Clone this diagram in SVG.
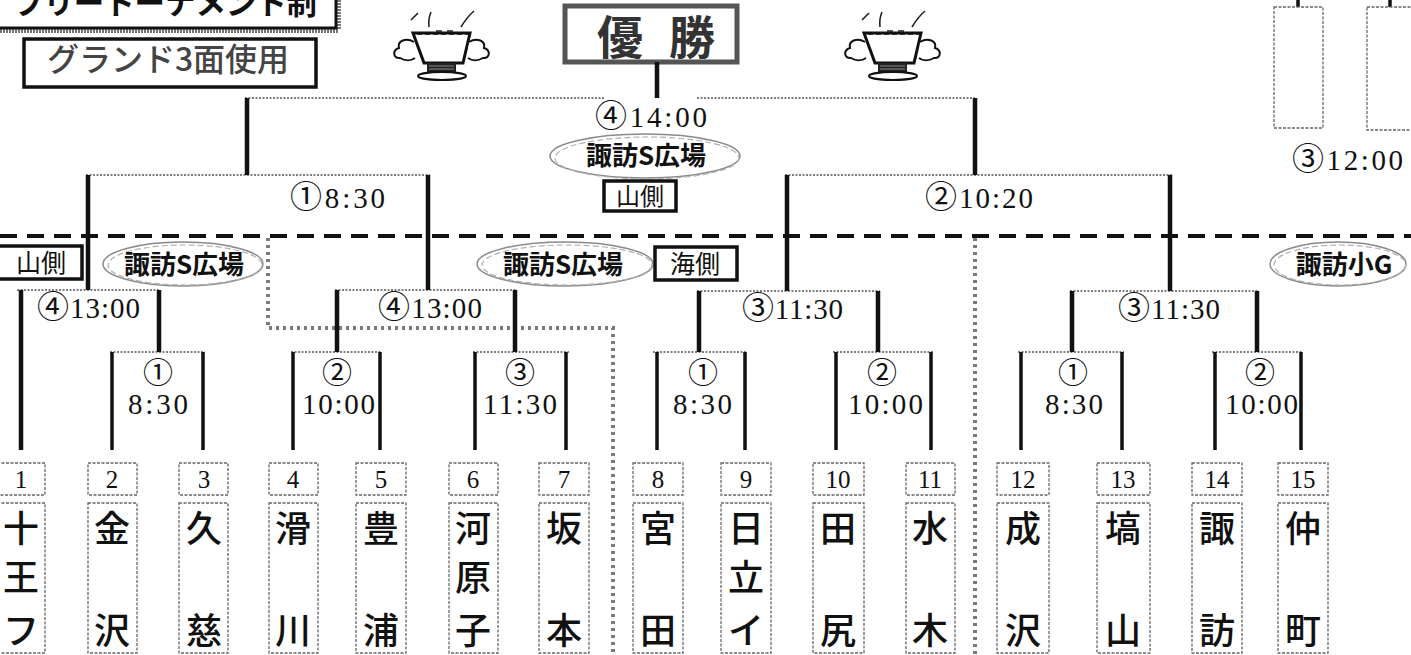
<svg xmlns="http://www.w3.org/2000/svg" width="1411" height="655" viewBox="0 0 1411 655">
<style>
.ser{font-family:"Liberation Serif","Noto Sans CJK JP",serif;fill:#111}
.jp{font-family:"Noto Sans CJK JP",sans-serif;fill:#111}
.v{stroke:#111;stroke-width:4.5;fill:none}
.v2{stroke:#111;stroke-width:3.5;fill:none}
.h{stroke:#555;stroke-width:1.6;stroke-dasharray:2 1.5;fill:none}
.sep{stroke:#7a7a7a;stroke-width:4;stroke-dasharray:3 4;fill:none}
.big{stroke:#111;stroke-width:4;stroke-dasharray:17 10;fill:none}
.box{fill:#fff;stroke:#111;stroke-width:3.5}
.tb{fill:#fff;stroke:#666;stroke-width:1.3;stroke-dasharray:3 1.5}
.ell{fill:none;stroke:#8a8a8a;stroke-width:1.5}
.ell2{fill:none;stroke:#b0b0b0;stroke-width:1.2;stroke-dasharray:6 3}
.t28{font-size:29px}
.cc{font-size:32px}
.c26{font-size:30px;text-anchor:middle}
.t27{font-size:29px}
.num{font-size:25px;text-anchor:middle}
.nm{font-size:36px;text-anchor:middle;font-weight:500}
.lab{font-size:26px;text-anchor:middle;font-weight:700}
</style>
<defs>
<g id="trophy">
<path d="M-30,20 q4,-4 7,-7 M-12,27 q-1,-8 2,-15 M-5,31 h6 M6,31 h6 M20,27 q6,-10 13,-16" stroke="#222" stroke-width="1.6" fill="none"/>
<path d="M-28,33 L-17,63 L22,63 L29,33 Z" fill="#fff" stroke="#111" stroke-width="3"/>
<path d="M-24,34 h52" stroke="#111" stroke-width="1.5" stroke-dasharray="5 3"/>
<rect x="-14" y="63" width="29" height="9" fill="#222"/>
<path d="M-12,66 h25 M-12,69 h25" stroke="#888" stroke-width="1"/>
<ellipse cx="1" cy="76" rx="24" ry="4" fill="none" stroke="#111" stroke-width="2"/>
<path d="M-27,42 c-8,-5 -17,-1 -15,6 c-7,2 -6,11 1,10 c5,3 11,3 15,0" fill="#fff" stroke="#111" stroke-width="2"/>
<path d="M28,42 c8,-5 17,-1 15,6 c7,2 6,11 -1,10 c-5,3 -11,3 -15,0" fill="#fff" stroke="#111" stroke-width="2"/>
</g>
</defs>
<rect width="1411" height="655" fill="#fff"/>

<g id="title">
<rect x="-6" y="-22" width="344" height="52" fill="#fff" stroke="#777" stroke-width="6" stroke-dasharray="2 1"/>
<rect x="-4" y="-20" width="340" height="48" fill="#fff" stroke="#111" stroke-width="3"/>
<text class="jp" x="13" y="14" font-size="31" font-weight="700" textLength="304" lengthAdjust="spacingAndGlyphs">フリートーナメント制</text>
</g>
<g id="ground-note">
<rect x="24" y="39" width="292" height="48" class="box" stroke-width="4"/>
<text class="jp" x="168" y="71" font-size="32" font-weight="500" text-anchor="middle" style="fill:#444">グランド3面使用</text>
</g>
<g id="trophy-left"><use href="#trophy" x="441" y="0"/></g>
<g id="trophy-right"><use href="#trophy" x="892" y="0"/></g>
<g id="champion">
<rect x="565" y="6" width="172" height="56" fill="#fff" stroke="#555" stroke-width="5"/>
<text class="jp" x="620" y="54" font-size="46" font-weight="700" text-anchor="middle" style="fill:#333">優</text>
<text class="jp" x="692" y="54" font-size="46" font-weight="700" text-anchor="middle" style="fill:#333">勝</text>
</g>

<g id="connectors">
<path class="big" d="M0,236 H1411"/>
<path class="sep" d="M268,238 V328 H613 V655 M975,238 V655"/>
<path class="h" d="M245,98 H605 M697,98 H975 M86,175 H430 M785,175 H1172 M17,290 H160 M335,290 H517 M697,291 H880 M1070,291 H1259 M110,352 H205 M291,352 H382 M473,352 H569 M653,352 H747 M833,352 H933 M1018,352 H1124 M1212,352 H1303"/>
<path class="v" d="M657,62 V98 M247,98 V175 M975,98 V175 M88,175 V290 M428,175 V290 M787,175 V291 M1170,175 V291 M21,290 V450 M159,290 V352 M337,290 V352 M515,290 V352 M699,291 V352 M878,291 V352 M1072,291 V352 M1257,291 V352"/>
<path class="v2" d="M112,352 V450 M203,352 V450 M293,352 V450 M380,352 V450 M475,352 V450 M566,352 V450 M657,352 V450 M745,352 V450 M836,352 V450 M931,352 V450 M1021,352 V450 M1122,352 V450 M1215,352 V450 M1301,352 V450"/>
<path class="v2" d="M1298,0 V7 M1390,0 V7"/>
</g>

<g id="match-final">
<text class="ser t28" x="595" y="127" textLength="112" lengthAdjust="spacing"><tspan class="cc">④</tspan>14:00</text>
<ellipse class="ell" cx="645" cy="156" rx="95" ry="22"/>
<ellipse class="ell2" cx="647" cy="158" rx="92" ry="21"/>
<text class="jp lab" x="646" y="165">諏訪S広場</text>
<rect class="box" x="604" y="181" width="72" height="30" stroke-width="3"/>
<text class="jp" x="640" y="205" font-size="24" text-anchor="middle">山側</text>
</g>
<g id="match-sf1"><text class="ser t28" x="290" y="208" textLength="95" lengthAdjust="spacing"><tspan class="cc">①</tspan>8:30</text></g>
<g id="match-sf2"><text class="ser t28" x="925" y="208" textLength="108" lengthAdjust="spacing"><tspan class="cc">②</tspan>10:20</text></g>
<g id="match-qf1">
<text class="ser t28" x="37" y="318" textLength="103" lengthAdjust="spacing"><tspan class="cc">④</tspan>13:00</text>
<rect class="box" x="-4" y="246" width="86" height="33" stroke-width="3"/>
<text class="jp" x="41" y="272" font-size="25" text-anchor="middle">山側</text>
<ellipse class="ell" cx="183" cy="264" rx="80" ry="22"/>
<ellipse class="ell2" cx="185" cy="265" rx="77" ry="20"/>
<text class="jp lab" x="184" y="274">諏訪S広場</text>
</g>
<g id="match-qf2">
<text class="ser t28" x="378" y="318" textLength="104" lengthAdjust="spacing"><tspan class="cc">④</tspan>13:00</text>
<ellipse class="ell" cx="565" cy="264" rx="88" ry="22"/>
<ellipse class="ell2" cx="567" cy="265" rx="85" ry="20"/>
<text class="jp lab" x="563" y="274">諏訪S広場</text>
<rect class="box" x="655" y="247" width="82" height="33" stroke-width="3"/>
<text class="jp" x="695" y="273" font-size="25" text-anchor="middle">海側</text>
</g>
<g id="match-qf3"><text class="ser t28" x="742" y="319" textLength="101" lengthAdjust="spacing"><tspan class="cc">③</tspan>11:30</text></g>
<g id="match-qf4">
<text class="ser t28" x="1118" y="319" textLength="102" lengthAdjust="spacing"><tspan class="cc">③</tspan>11:30</text>
<ellipse class="ell" cx="1338" cy="264" rx="68" ry="22"/>
<ellipse class="ell2" cx="1340" cy="265" rx="66" ry="20"/>
<text class="jp lab" x="1344" y="274">諏訪小G</text>
</g>
<g id="match-other">
<rect class="tb" x="1274" y="7" width="49" height="121" fill="none"/>
<rect class="tb" x="1367" y="7" width="52" height="123" fill="none"/>
<text class="ser t28" x="1292" y="170" textLength="111" lengthAdjust="spacing"><tspan class="cc">③</tspan>12:00</text>
</g>

<g id="r1-1"><text class="ser c26" x="158" y="383">①</text><text class="ser t27" x="128" y="414" textLength="60" lengthAdjust="spacing">8:30</text></g>
<g id="r1-2"><text class="ser c26" x="337" y="383">②</text><text class="ser t27" x="302" y="414" textLength="73" lengthAdjust="spacing">10:00</text></g>
<g id="r1-3"><text class="ser c26" x="520" y="383">③</text><text class="ser t27" x="483" y="414" textLength="74" lengthAdjust="spacing">11:30</text></g>
<g id="r1-4"><text class="ser c26" x="703" y="383">①</text><text class="ser t27" x="673" y="414" textLength="59" lengthAdjust="spacing">8:30</text></g>
<g id="r1-5"><text class="ser c26" x="882" y="383">②</text><text class="ser t27" x="848" y="414" textLength="75" lengthAdjust="spacing">10:00</text></g>
<g id="r1-6"><text class="ser c26" x="1073" y="383">①</text><text class="ser t27" x="1045" y="414" textLength="58" lengthAdjust="spacing">8:30</text></g>
<g id="r1-7"><text class="ser c26" x="1260" y="383">②</text><text class="ser t27" x="1225" y="414" textLength="73" lengthAdjust="spacing">10:00</text></g>

<g id="team-1"><rect class="tb" x="-3" y="463" width="48" height="32"/><text class="ser num" x="21" y="488">1</text><rect class="tb" x="-3" y="503" width="48" height="150"/><text class="jp nm" x="21" y="542">十</text><text class="jp nm" x="21" y="591">王</text><text class="jp nm" x="21" y="644">フ</text></g>
<g id="team-2"><rect class="tb" x="88" y="463" width="49" height="32"/><text class="ser num" x="112" y="488">2</text><rect class="tb" x="88" y="503" width="49" height="150"/><text class="jp nm" x="112" y="542">金</text><text class="jp nm" x="112" y="644">沢</text></g>
<g id="team-3"><rect class="tb" x="179" y="463" width="49" height="32"/><text class="ser num" x="204" y="488">3</text><rect class="tb" x="179" y="503" width="49" height="150"/><text class="jp nm" x="204" y="542">久</text><text class="jp nm" x="204" y="644">慈</text></g>
<g id="team-4"><rect class="tb" x="269" y="463" width="49" height="32"/><text class="ser num" x="293" y="488">4</text><rect class="tb" x="269" y="503" width="49" height="150"/><text class="jp nm" x="293" y="542">滑</text><text class="jp nm" x="293" y="644">川</text></g>
<g id="team-5"><rect class="tb" x="356" y="463" width="50" height="32"/><text class="ser num" x="381" y="488">5</text><rect class="tb" x="356" y="503" width="50" height="150"/><text class="jp nm" x="381" y="542">豊</text><text class="jp nm" x="381" y="644">浦</text></g>
<g id="team-6"><rect class="tb" x="449" y="463" width="49" height="32"/><text class="ser num" x="473" y="488">6</text><rect class="tb" x="449" y="503" width="49" height="150"/><text class="jp nm" x="473" y="542">河</text><text class="jp nm" x="473" y="591">原</text><text class="jp nm" x="473" y="644">子</text></g>
<g id="team-7"><rect class="tb" x="539" y="463" width="50" height="32"/><text class="ser num" x="564" y="488">7</text><rect class="tb" x="539" y="503" width="50" height="150"/><text class="jp nm" x="564" y="542">坂</text><text class="jp nm" x="564" y="644">本</text></g>
<g id="team-8"><rect class="tb" x="633" y="463" width="50" height="32"/><text class="ser num" x="658" y="488">8</text><rect class="tb" x="633" y="503" width="50" height="150"/><text class="jp nm" x="658" y="542">宮</text><text class="jp nm" x="658" y="644">田</text></g>
<g id="team-9"><rect class="tb" x="721" y="463" width="50" height="32"/><text class="ser num" x="746" y="488">9</text><rect class="tb" x="721" y="503" width="50" height="150"/><text class="jp nm" x="746" y="542">日</text><text class="jp nm" x="746" y="591">立</text><text class="jp nm" x="746" y="644">イ</text></g>
<g id="team-10"><rect class="tb" x="813" y="463" width="51" height="32"/><text class="ser num" x="838" y="488">10</text><rect class="tb" x="813" y="503" width="51" height="150"/><text class="jp nm" x="838" y="542">田</text><text class="jp nm" x="838" y="644">尻</text></g>
<g id="team-11"><rect class="tb" x="906" y="463" width="49" height="32"/><text class="ser num" x="930" y="488">11</text><rect class="tb" x="906" y="503" width="49" height="150"/><text class="jp nm" x="930" y="542">水</text><text class="jp nm" x="930" y="644">木</text></g>
<g id="team-12"><rect class="tb" x="997" y="463" width="52" height="32"/><text class="ser num" x="1023" y="488">12</text><rect class="tb" x="997" y="503" width="52" height="150"/><text class="jp nm" x="1023" y="542">成</text><text class="jp nm" x="1023" y="644">沢</text></g>
<g id="team-13"><rect class="tb" x="1097" y="463" width="53" height="32"/><text class="ser num" x="1123" y="488">13</text><rect class="tb" x="1097" y="503" width="53" height="150"/><text class="jp nm" x="1123" y="542">塙</text><text class="jp nm" x="1123" y="644">山</text></g>
<g id="team-14"><rect class="tb" x="1192" y="463" width="50" height="32"/><text class="ser num" x="1217" y="488">14</text><rect class="tb" x="1192" y="503" width="50" height="150"/><text class="jp nm" x="1217" y="542">諏</text><text class="jp nm" x="1217" y="644">訪</text></g>
<g id="team-15"><rect class="tb" x="1278" y="463" width="50" height="32"/><text class="ser num" x="1303" y="488">15</text><rect class="tb" x="1278" y="503" width="50" height="150"/><text class="jp nm" x="1303" y="542">仲</text><text class="jp nm" x="1303" y="644">町</text></g>
</svg>
